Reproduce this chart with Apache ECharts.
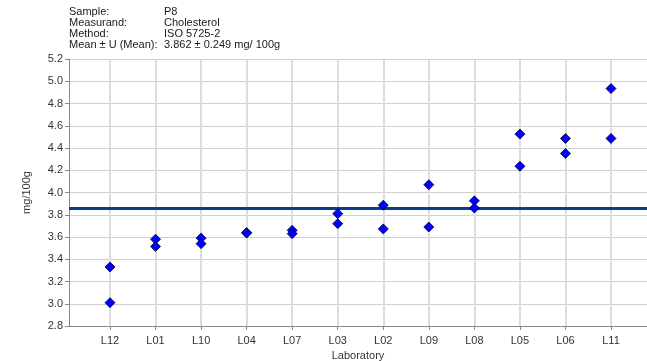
<!DOCTYPE html>
<html><head><meta charset="utf-8">
<script src="https://cdn.jsdelivr.net/npm/echarts@6/dist/echarts.min.js"></script>
<style>html,body{margin:0;padding:0;background:#fff}#c{width:647px;height:361px}</style>
</head><body><div id="c"></div>
<script>
const labs = ['L12','L01','L10','L04','L07','L03','L02','L09','L08','L05','L06','L11'];
const rep1 = [3.33, 3.58, 3.59, 3.64, 3.66, 3.81, 3.886, 4.07, 3.925, 4.525, 4.486, 4.934];
const rep2 = [3.01, 3.515, 3.54, 3.635, 3.63, 3.72, 3.673, 3.69, 3.86, 4.236, 4.351, 4.486];
const meanValue = 3.862;
const headerKeys = ['Sample:', 'Measurand:', 'Method:', 'Mean \u00b1 U (Mean):'];
const headerVals = ['P8', 'Cholesterol', 'ISO 5725-2', '3.862 \u00b1 0.249 mg/ 100g'];
const yTicks = [2.8, 3.0, 3.2, 3.4, 3.6, 3.8, 4.0, 4.2, 4.4, 4.6, 4.8, 5.0, 5.2];

const pos = labs.map((_, i) => i + 1);
const pts = [];
labs.forEach((l, i) => { pts.push([pos[i], rep1[i]]); pts.push([pos[i], rep2[i]]); });

const font = 'Liberation Sans, Arial, sans-serif';
const graphics = [];
headerKeys.forEach((k, i) => {
  graphics.push({type:'text', left:69, top:6 + i*11, style:{text:k, font:'11px ' + font, fill:'#1a1a1a'}});
  graphics.push({type:'text', left:164, top:6 + i*11, style:{text:headerVals[i], font:'11px ' + font, fill:'#1a1a1a'}});
});

const chart = echarts.init(document.getElementById('c'), null, {renderer:'canvas'});
chart.setOption({
  animation:false,
  backgroundColor:'#fff',
  graphic: graphics,
  grid:{left:69, right:0, top:59, bottom:35, containLabel:false, outerBoundsMode:'none'},
  xAxis:{
    type:'value', min:0.1, max:12.79,
    name:'Laboratory', nameLocation:'middle', nameGap:21,
    nameTextStyle:{color:'#333', fontSize:11, fontFamily:font},
    axisLine:{show:true, lineStyle:{color:'#888', width:1}},
    axisTick:{show:true, customValues:pos, length:4, lineStyle:{color:'#888'}},
    axisLabel:{customValues:pos, formatter:v => labs[Math.round(v) - 1] || '', color:'#333', fontSize:11, fontFamily:font, margin:9},
    splitLine:{show:true, lineStyle:{color:'#dcdcdc', width:2}}
  },
  yAxis:{
    type:'value', min:2.8, max:5.2, interval:0.2,
    name:'mg/100g', nameLocation:'middle', nameGap:37, nameRotate:90,
    nameTextStyle:{color:'#333', fontSize:11, fontFamily:font},
    axisLine:{show:true, lineStyle:{color:'#888', width:1}},
    axisTick:{show:true, length:4, lineStyle:{color:'#888'}},
    axisLabel:{formatter:v => v.toFixed(1), color:'#333', fontSize:11, fontFamily:font, margin:6},
    splitLine:{show:true, lineStyle:{color:'#d0d0d0', width:1}}
  },
  series:[{
    type:'scatter', symbol:'diamond', symbolSize:10,
    itemStyle:{color:'#0000ff', borderColor:'#000033', borderWidth:0.8, opacity:1},
    data: pts, z:5,
    markLine:{silent:true, symbol:'none', label:{show:false},
      lineStyle:{color:'#0b3d8f', width:3, type:'solid'},
      data:[{yAxis:meanValue}]}
  }]
});
</script></body></html>
